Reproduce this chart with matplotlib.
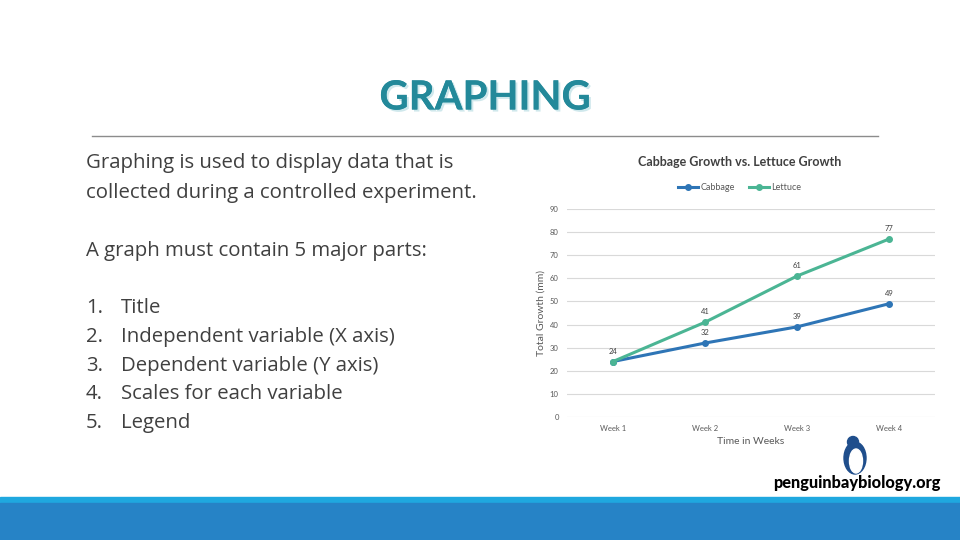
"""
Slide recreation: GRAPHING — cabbage vs. lettuce growth line chart.
"""

import matplotlib
matplotlib.use("Agg")
import matplotlib.pyplot as plt
import matplotlib.patheffects as pe
from matplotlib.patches import Rectangle, Ellipse
from matplotlib.lines import Line2D

# ─── Data ─────────────────────────────────────────────────────────────
weeks = ["Week 1", "Week 2", "Week 3", "Week 4"]
cabbage = [24, 32, 39, 49]
lettuce = [24, 41, 61, 77]
y_ticks = [0, 10, 20, 30, 40, 50, 60, 70, 80, 90]

intro_lines = ["Graphing is used to display data that is",
               "collected during a controlled experiment."]
parts_header = "A graph must contain 5 major parts:"
parts = ["Title",
         "Independent variable (X axis)",
         "Dependent variable (Y axis)",
         "Scales for each variable",
         "Legend"]

# ─── Colours ──────────────────────────────────────────────────────────
C_CABBAGE = "#2e75b6"
C_LETTUCE = "#4bb594"
C_TITLE = "#23899a"
C_TEXT = "#404040"
C_TICK = "#595959"
C_GRID = "#d9d9d9"
C_PENGUIN = "#1f4e8c"

plt.rcParams['font.family'] = ['Lato', 'DejaVu Sans']

W, H = 960, 540
fig = plt.figure(figsize=(9.6, 5.4), dpi=100)


def fx(px):
    return px / W


def fy(py):
    return 1 - py / H


# ─── Slide decoration ────────────────────────────────────────────────
fig.text(fx(485), fy(98), "GRAPHING", color=C_TITLE, fontsize=29,
         fontweight="bold", ha="center", va="center",
         path_effects=[pe.withSimplePatchShadow(offset=(1.5, -1.5),
                                                shadow_rgbFace="#cfe8ec",
                                                alpha=1.0),
                       pe.Normal()])
fig.add_artist(Line2D([fx(92), fx(878)], [fy(136), fy(136)],
                      color="#8c8c8c", linewidth=1.0))

fig.add_artist(Rectangle((0, fy(540)), 1, 43 / H,
                         color="#1fa8df", transform=fig.transFigure))
fig.add_artist(Rectangle((0, fy(540)), 1, 37 / H,
                         color="#2683c6", transform=fig.transFigure))

# left text
body = dict(color=C_TEXT, fontsize=14.7, ha="left", va="center",
            family=["Open Sans", "DejaVu Sans"])
for i, line in enumerate(intro_lines):
    fig.text(fx(86), fy(163 + 30 * i), line, **body)
fig.text(fx(86), fy(251), parts_header, **body)
for i, p in enumerate(parts):
    yy = fy(308 + 28.8 * i)
    fig.text(fx(86), yy, f"{i + 1}.", **body)
    fig.text(fx(121), yy, p, **body)

# logo: simple penguin + site name
fig.add_artist(Ellipse((fx(855), fy(458)), 22 / W, 32 / H,
                       color=C_PENGUIN, transform=fig.transFigure))
fig.add_artist(Ellipse((fx(856), fy(461)), 13 / W, 24 / H,
                       color="white", transform=fig.transFigure))
fig.add_artist(Ellipse((fx(853), fy(442)), 11 / W, 11 / H,
                       color=C_PENGUIN, transform=fig.transFigure))
fig.text(fx(857), fy(483), "penguinbaybiology.org", color="black",
         fontsize=11.8, fontweight="black", ha="center", va="center")

# ─── Chart ───────────────────────────────────────────────────────────
ax = fig.add_axes([fx(567), fy(417), (935 - 567) / W, (417 - 209) / H])
x = list(range(len(weeks)))
ax.plot(x, cabbage, '-o', color=C_CABBAGE, linewidth=2.2, markersize=4,
        label="Cabbage", zorder=3)
ax.plot(x, lettuce, '-o', color=C_LETTUCE, linewidth=2.2, markersize=4,
        label="Lettuce", zorder=3)

# data labels (first point shared; only one "24" shown)
for i, v in enumerate(cabbage):
    if i == 0:
        continue
    ax.annotate(str(v), (i, v), xytext=(0, 5), textcoords="offset points",
                ha="center", va="bottom", fontsize=5.5, color=C_TEXT)
for i, v in enumerate(lettuce):
    ax.annotate(str(v), (i, v), xytext=(0, 5), textcoords="offset points",
                ha="center", va="bottom", fontsize=5.5, color=C_TEXT)

ax.set_xlim(-0.5, len(weeks) - 0.5)
ax.set_ylim(0, 90)
ax.set_yticks(y_ticks)
ax.set_xticks(x)
ax.set_xticklabels(weeks)
ax.tick_params(axis="both", length=0, labelsize=5.5, labelcolor=C_TICK)
ax.tick_params(axis="y", pad=6)
ax.tick_params(axis="x", pad=6)
ax.grid(axis="y", color=C_GRID, linewidth=0.8)
ax.set_axisbelow(True)
for s in ax.spines.values():
    s.set_visible(False)

fig.text(fx(751), fy(442), "Time in Weeks", color=C_TICK, fontsize=7.5,
         ha="center", va="center")
fig.text(fx(541), fy(313), "Total Growth (mm)", color=C_TICK, fontsize=7.5,
         ha="center", va="center", rotation=90)
fig.text(fx(740), fy(162), "Cabbage Growth vs. Lettuce Growth",
         color=C_TEXT, fontsize=9, fontweight="bold", ha="center",
         va="center")
fig.legend(handles=ax.get_lines(), loc="center",
           bbox_to_anchor=(fx(740), fy(188)), ncol=2, frameon=False,
           fontsize=6.5, labelcolor=C_TICK, handlelength=2.2,
           columnspacing=1.5, handletextpad=0.3)

fig.savefig("out.png", dpi=100)
plt.close()
